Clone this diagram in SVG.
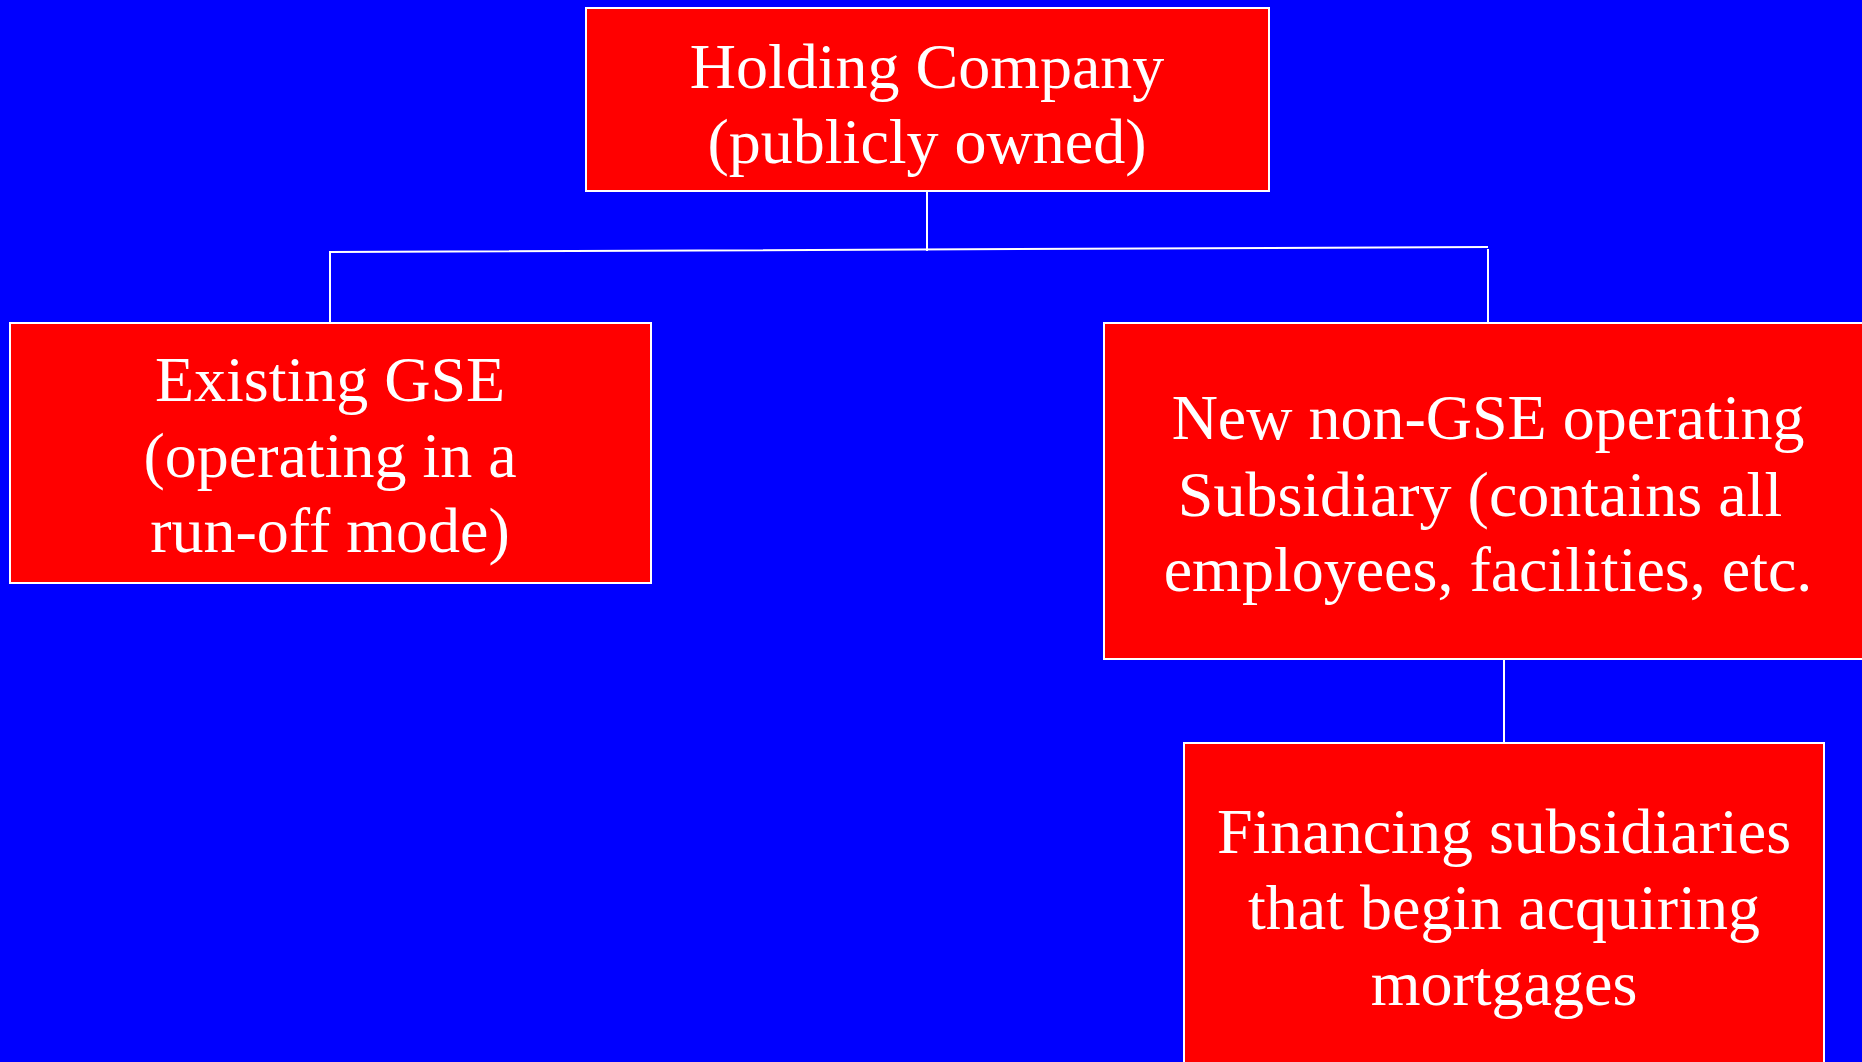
<svg xmlns="http://www.w3.org/2000/svg" width="1862" height="1062" viewBox="0 0 1862 1062">
<style>
.box{fill:#ff0000;stroke:#ffffff;stroke-width:2}
.t{font-family:"Liberation Serif","Times New Roman",serif;font-size:64px;fill:#ffffff;text-anchor:middle}
.c{stroke:#ffffff;stroke-width:2;fill:none}
</style>
<rect x="0" y="0" width="1862" height="1062" fill="#0000ff"/>
<g id="connectors">
<polyline class="c" points="927,191 927,251"/>
<polyline class="c" points="330,323 330,252 1488,247"/>
<polyline class="c" points="1488,249 1488,323"/>
<polyline class="c" points="1504,659 1504,743"/>
</g>
<g id="holding">
<rect class="box" x="586" y="8" width="683" height="183"/>
<text class="t" x="927" y="88">Holding Company</text>
<text class="t" x="927" y="163">(publicly owned)</text>
</g>
<g id="existing">
<rect class="box" x="10" y="323" width="641" height="260"/>
<text class="t" x="330" y="401">Existing GSE</text>
<text class="t" x="330" y="477">(operating in a</text>
<text class="t" x="330" y="552">run-off mode)</text>
</g>
<g id="newsub">
<rect class="box" x="1104" y="323" width="770" height="336"/>
<text class="t" x="1488" y="439">New non-GSE operating</text>
<text class="t" x="1480" y="516">Subsidiary (contains all</text>
<text class="t" x="1488" y="591">employees, facilities, etc.</text>
</g>
<g id="financing">
<rect class="box" x="1184" y="743" width="640" height="330"/>
<text class="t" x="1504" y="853">Financing subsidiaries</text>
<text class="t" x="1504" y="929">that begin acquiring</text>
<text class="t" x="1504" y="1005">mortgages</text>
</g>
</svg>
